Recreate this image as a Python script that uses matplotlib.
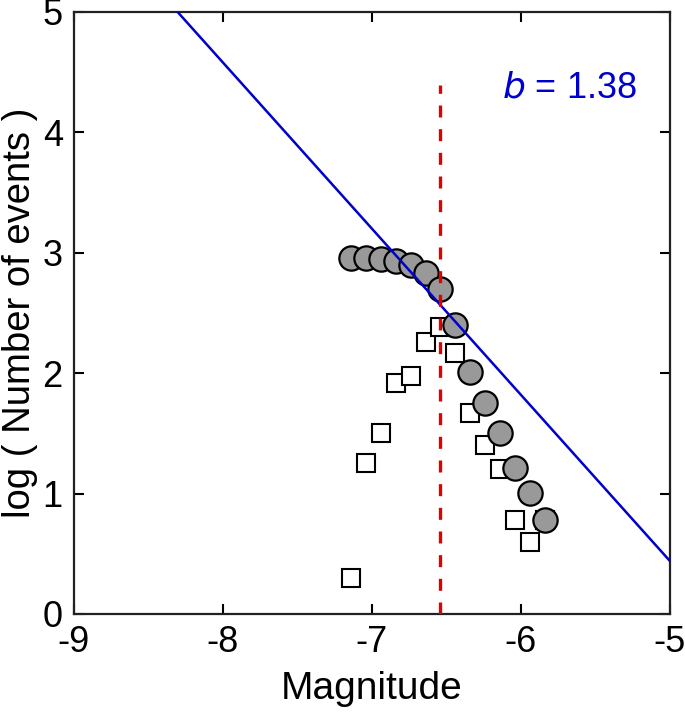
import matplotlib
matplotlib.use("Agg")
import matplotlib.pyplot as plt
import numpy as np

plt.rcParams['font.family'] = ['Liberation Sans', 'DejaVu Sans']
plt.rcParams['axes.unicode_minus'] = False

# Cumulative (circles)
mag_cum = [-7.14, -7.04, -6.94, -6.84, -6.74, -6.64, -6.54, -6.44, -6.34,
           -6.24, -6.14, -6.04, -5.94, -5.84]
log_cum = [2.96, 2.96, 2.946, 2.935, 2.899, 2.835, 2.697, 2.40, 2.013,
           1.756, 1.506, 1.21, 1.002, 0.781]

# Non-cumulative (squares)
mag_inc = [-7.14, -7.04, -6.94, -6.84, -6.74, -6.64, -6.54, -6.44, -6.34,
           -6.24, -6.14, -6.04, -5.94, -5.84]
log_inc = [0.30, 1.251, 1.506, 1.916, 1.98, 2.262, 2.386, 2.171, 1.667,
           1.404, 1.202, 0.781, 0.601, 0.781]

# Gutenberg-Richter fit: log N = a - b*M
b_value = 1.38
a_value = -6.46
fit_range = [-9.0, -5.0]
mc = -6.54
mc_top = 4.39

fig = plt.figure(figsize=(6.85, 7.22), dpi=100)
ax = fig.add_axes([0.108, 0.1496, 0.870, 0.8338])

ax.plot(mag_inc, log_inc, linestyle='none', marker='s', markersize=13,
        markerfacecolor='white', markeredgecolor='black', markeredgewidth=1.5,
        zorder=3)
ax.plot(mag_cum, log_cum, linestyle='none', marker='o', markersize=17.5,
        markerfacecolor='#999999', markeredgecolor='black', markeredgewidth=1.6,
        zorder=4)

xf = np.array(fit_range)
ax.plot(xf, a_value - b_value * xf, color='#0000cc', linewidth=1.8, zorder=5)

ax.plot([mc, mc], [0, mc_top], color='#e00000', linewidth=2.4,
        linestyle=(0, (3.6, 3.5)), zorder=6)

ax.text(-6.13, 4.37, r'$\it{b}$ = 1.38', color='#0000cc', fontsize=26,
        va='center', ha='left')

ax.set_xlim(-9, -5)
ax.set_ylim(0, 5)
ax.set_xticks([-9, -8, -7, -6, -5])
ax.set_yticks([0, 1, 2, 3, 4, 5])
ax.tick_params(direction='in', length=7, width=1.5, top=True, right=True,
               labelsize=26, colors='black', pad=8)
for s in ax.spines.values():
    s.set_linewidth(1.6)
    s.set_color('#222222')
ax.set_xlabel('Magnitude', fontsize=28, labelpad=8)
ax.set_ylabel('log ( Number of events )', fontsize=27.5, labelpad=3)

fig.savefig('out.png', dpi=100)
